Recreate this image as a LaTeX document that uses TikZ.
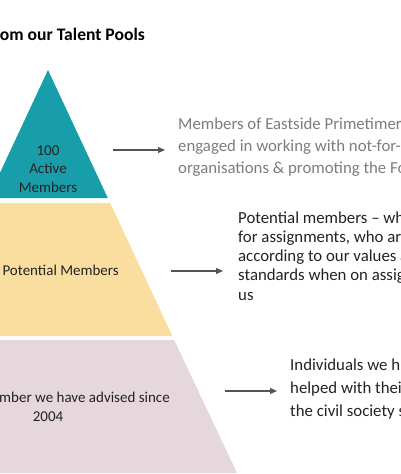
\documentclass[tikz,border=0pt]{standalone}
\usepackage{fontspec}
\setmainfont{Carlito}
\usetikzlibrary{arrows.meta}
\definecolor{teal1}{RGB}{24,158,171}
\definecolor{sand}{RGB}{250,222,160}
\definecolor{mauve}{RGB}{229,215,220}
\definecolor{arr}{RGB}{85,85,85}
\definecolor{greytxt}{RGB}{125,125,125}
\definecolor{darktxt}{RGB}{35,35,35}
\tikzset{
  lbl/.style={inner sep=0pt, text=darktxt, font=\fontsize{15}{18.5}\selectfont, align=center},
  body/.style={inner sep=0pt, anchor=base west, align=left, font=\fontsize{16.8}{22}\selectfont},
  link/.style={draw=arr, line width=1.2pt, -{Triangle[length=7pt,width=6pt]}}
}
\begin{document}
\begin{tikzpicture}[x=1pt,y=-1pt]
\useasboundingbox (0,0) rectangle (400,474);
\clip (0,0) rectangle (400,474);
\fill[white] (0,0) rectangle (400,474);
% pyramid, edge x = 48 +- 0.467*(y-70)
\fill[teal1] (48,70) -- (107.8,198) -- (-11.8,198) -- cycle;
\fill[sand] (110.2,203) -- (172.3,336) -- (-76.3,336) -- (-14.2,203) -- cycle;
\fill[mauve] (174.2,340) -- (237,473) -- (-141,473) -- (-78.2,340) -- cycle;
% title
\node[inner sep=0pt, anchor=base east, font=\bfseries\fontsize{17.6}{20}\selectfont] (title) at (145,40) {om our Talent Pools};
% labels (base anchor = last line)
\node[lbl, anchor=base] (l1) at (48,192) {100\\Active\\Members};
\node[lbl, anchor=base east] (l2) at (119,275) {Potential Members};
\node[lbl, anchor=base east] (l3) at (170,402) {mber we have advised since};
\node[lbl, anchor=base] (l3b) at (48,421) {2004};
% texts (base anchor = last line)
\node[body, text=greytxt] (t1) at (178,173) {Members of Eastside Primetimer\\engaged in working with not-for-\\organisations \& promoting the Fo};
\node[body, text=darktxt, font=\fontsize{16.8}{19.2}\selectfont] (t2) at (238,300) {Potential members – wh\\for assignments, who ar\\according to our values a\\standards when on assig\\us};
\node[body, text=darktxt, font=\fontsize{16.8}{23}\selectfont] (t3) at (290,416) {Individuals we h\\helped with thei\\the civil society s};
% arrows
\coordinate (a1s) at (113,150); \coordinate (a1e) at (165,150);
\coordinate (a2s) at (171,271); \coordinate (a2e) at (223,271);
\coordinate (a3s) at (225,391); \coordinate (a3e) at (277,391);
\draw[link] (a1s) -- (a1e);
\draw[link] (a2s) -- (a2e);
\draw[link] (a3s) -- (a3e);
\end{tikzpicture}
\end{document}
